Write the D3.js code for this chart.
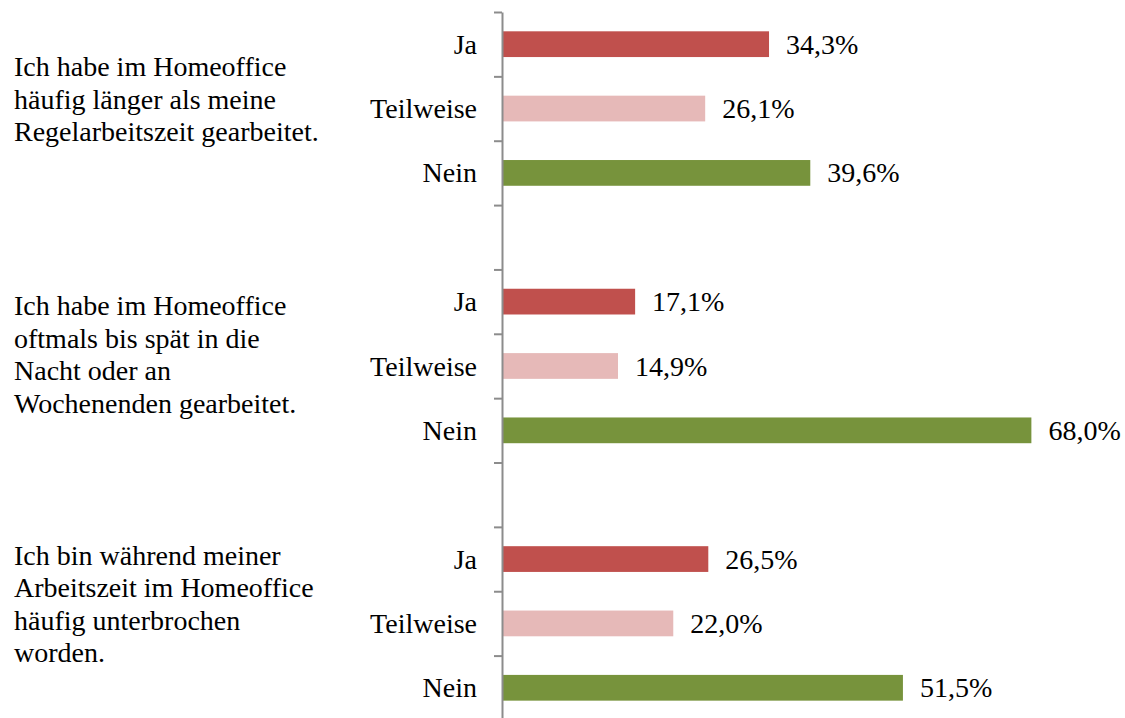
<!DOCTYPE html>
<html>
<head>
<meta charset="utf-8">
<script src="https://cdn.jsdelivr.net/npm/d3@7"></script>
<style>
  html, body { margin: 0; padding: 0; background: #fff; }
  text { font-family: "Liberation Serif", "Times New Roman", serif; fill: #000; }
</style>
</head>
<body>
<div id="chart"></div>
<script>
const questions = [
  ["Ich habe im Homeoffice", "häufig länger als meine", "Regelarbeitszeit gearbeitet."],
  ["Ich habe im Homeoffice", "oftmals bis spät in die", "Nacht oder an", "Wochenenden gearbeitet."],
  ["Ich bin während meiner", "Arbeitszeit im Homeoffice", "häufig unterbrochen", "worden."]
];
const answers = ["Ja", "Teilweise", "Nein"];
const valuesJa = [34.3, 17.1, 26.5];
const valuesTeilweise = [26.1, 14.9, 22.0];
const valuesNein = [39.6, 68.0, 51.5];

const W = 1125, H = 718;
const AXIS_X = 502;
const TOP = 12, SLOT = 64.36;
const FONT = 28;
const LINE_H = 32.5;
const COLORS = { Ja: "#C0504D", Teilweise: "#E6B9B8", Nein: "#77933C", axis: "#8C8C8C" };

// rows: 3 answers per question, with an empty slot between groups
const rows = [];
questions.forEach((q, qi) => {
  const vals = [valuesJa[qi], valuesTeilweise[qi], valuesNein[qi]];
  answers.forEach((a, ai) => rows.push({ key: `${qi}-${a}`, q: qi, answer: a, value: vals[ai] }));
  if (qi < questions.length - 1) rows.push({ key: `gap-${qi}`, q: qi, answer: null, value: null });
});

const svg = d3.select("#chart").append("svg")
  .attr("width", W)
  .attr("height", H);

const y = d3.scaleBand()
  .domain(rows.map(d => d.key))
  .range([TOP, TOP + SLOT * rows.length])
  .paddingInner(0.6)
  .paddingOuter(0.3);

const slotScale = d3.scaleLinear()
  .domain([0, rows.length])
  .range([TOP, TOP + SLOT * rows.length]);

const x = d3.scaleLinear()
  .domain([0, 80])
  .range([AXIS_X, AXIS_X + 80 * 7.785]);

const fmt = v => d3.format(".1f")(v).replace(".", ",") + "%";
const bars = rows.filter(d => d.answer);

// Bars
svg.append("g").selectAll("rect")
  .data(bars)
  .join("rect")
  .attr("x", x(0))
  .attr("y", d => y(d.key))
  .attr("width", d => x(d.value) - x(0))
  .attr("height", y.bandwidth())
  .attr("fill", d => COLORS[d.answer]);

// Value labels
svg.append("g").selectAll("text")
  .data(bars)
  .join("text")
  .attr("x", d => x(d.value) + 17)
  .attr("y", d => y(d.key) + y.bandwidth() / 2)
  .attr("dy", "0.34em")
  .attr("font-size", FONT)
  .text(d => fmt(d.value));

// Category labels
svg.append("g").selectAll("text")
  .data(bars)
  .join("text")
  .attr("x", AXIS_X - 25)
  .attr("y", d => y(d.key) + y.bandwidth() / 2)
  .attr("dy", "0.34em")
  .attr("text-anchor", "end")
  .attr("font-size", FONT)
  .text(d => d.answer);

// Axis with ticks on slot boundaries
const axis = svg.append("g")
  .attr("transform", `translate(${AXIS_X},0)`)
  .call(d3.axisLeft(slotScale)
    .tickValues(d3.range(0, rows.length + 1))
    .tickSize(8)
    .tickSizeOuter(0)
    .tickFormat(""));
axis.select(".domain").attr("stroke", COLORS.axis).attr("stroke-width", 2);
axis.selectAll(".tick line").attr("stroke", COLORS.axis).attr("stroke-width", 2);

// Question texts
const nudge = [0, -2, -10];
questions.forEach((lines, qi) => {
  const mid = slotScale(qi * 4) + SLOT * 1.5;
  const firstBase = mid - (lines.length - 1) / 2 * LINE_H + nudge[qi];
  const t = svg.append("text")
    .attr("x", 14)
    .attr("y", firstBase)
    .attr("font-size", FONT);
  lines.forEach((l, li) => {
    t.append("tspan")
      .attr("x", 14)
      .attr("y", firstBase + li * LINE_H)
      .text(l);
  });
});
</script>
</body>
</html>
